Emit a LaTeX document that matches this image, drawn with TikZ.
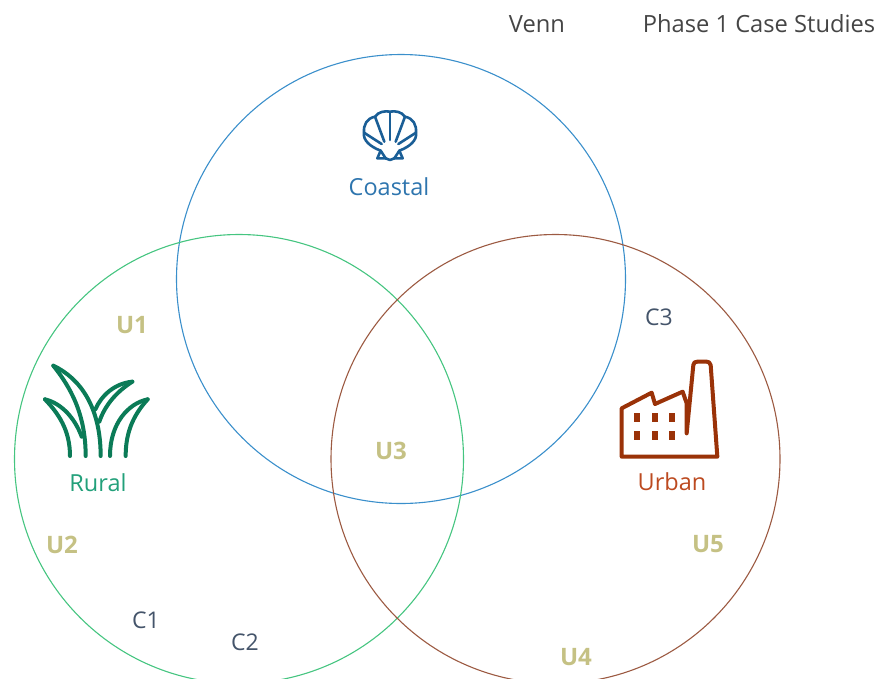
\documentclass[tikz,border=0pt]{standalone}
\usepackage{fontspec}
\setmainfont{Open Sans}
\definecolor{coastalline}{HTML}{3A8FCB}
\definecolor{ruralline}{HTML}{45C580}
\definecolor{urbanline}{HTML}{9C5A42}
\definecolor{coastaltext}{HTML}{2E75AE}
\definecolor{ruraltext}{HTML}{22A07A}
\definecolor{urbantext}{HTML}{BC4A20}
\definecolor{shellicon}{HTML}{1A5E96}
\definecolor{grassicon}{HTML}{0B7B57}
\definecolor{factoryicon}{HTML}{9A3208}
\definecolor{ulabel}{HTML}{C5C184}
\definecolor{clabel}{HTML}{44546A}
\definecolor{titletext}{HTML}{454545}

\begin{document}
\begin{tikzpicture}[x=1pt,y=-1pt]
    \tikzstyle{vennset}=[circle,minimum size=449pt,inner sep=0pt,draw,line width=1.1pt]
    \tikzstyle{setname}=[inner sep=0pt,font=\fontsize{23.5pt}{26pt}\selectfont]
    \tikzstyle{ucase}=[inner sep=0pt,text=ulabel,font=\fontsize{24pt}{26pt}\selectfont\bfseries]
    \tikzstyle{ccase}=[inner sep=0pt,text=clabel,font=\fontsize{23pt}{26pt}\selectfont]
    \tikzstyle{title}=[inner sep=0pt,text=titletext,font=\fontsize{23.7pt}{26pt}\selectfont]
    \tikzstyle{icon}=[line width=4pt,line cap=round,line join=round]
    \useasboundingbox (0,0) rectangle (881,678);
    \clip (0,0) rectangle (881,678);
    % the three sets
    \node[vennset,draw=coastalline] (coastalset) at (401,279) {};
    \node[vennset,draw=ruralline] (ruralset) at (239,459) {};
    \node[vennset,draw=urbanline] (urbanset) at (555.5,459) {};
    % titles
    \node[title] (venn) at (537,24) {Venn};
    \node[title] (phase) at (759,24) {Phase 1 Case Studies};
    % set names
    \node[setname,text=coastaltext] (coastal) at (389,187) {Coastal};
    \node[setname,text=ruraltext] (rural) at (98,483) {Rural};
    \node[setname,text=urbantext] (urban) at (672,482) {Urban};
    % cases
    \node[ucase] (u1) at (132,325) {U1};
    \node[ucase] (u2) at (62,545) {U2};
    \node[ucase] (u3) at (391,451) {U3};
    \node[ucase] (u4) at (576,657) {U4};
    \node[ucase] (u5) at (708,544) {U5};
    \node[ccase] (c1) at (146,620) {C1};
    \node[ccase] (c2) at (245,642) {C2};
    \node[ccase] (c3) at (659,317) {C3};
    % shell
    \begin{scope}[shift={(340,90)},scale=1/3,draw=shellicon,icon,line width=2.6pt]
        \draw (122,182) .. controls (90,170) and (68,150) .. (72,128)
          .. controls (70,105) and (80,85) .. (105,80)
          .. controls (115,65) and (135,62) .. (150,65)
          .. controls (165,62) and (185,65) .. (195,80)
          .. controls (220,85) and (230,105) .. (228,128)
          .. controls (232,150) and (210,170) .. (178,182);
        \draw (150,65) -- (150,150);
        \draw (105,80) -- (133,155);
        \draw (195,80) -- (167,155);
        \draw (72,128) -- (125,162);
        \draw (228,128) -- (175,162);
        \draw (122,182) -- (112,205) -- (137,205) -- cycle;
        \draw (178,182) -- (188,205) -- (163,205) -- cycle;
        \draw (137,205) -- (150,210) -- (163,205);
    \end{scope}
    % grass
    \begin{scope}[shift={(30,350)},scale=1/3,draw=grassicon,icon]
        \draw (70,47) .. controls (150,85) and (212,170) .. (212,318);
        \draw (70,47) .. controls (120,110) and (167,190) .. (167,318);
        \draw (45,148) .. controls (95,160) and (135,205) .. (155,260);
        \draw (45,148) .. controls (85,190) and (120,240) .. (120,318);
        \draw (307,95) .. controls (255,100) and (215,135) .. (196,178);
        \draw (307,95) .. controls (260,125) and (225,165) .. (208,215);
        \draw (353,148) .. controls (295,160) and (240,220) .. (240,318);
        \draw (353,148) .. controls (315,190) and (287,240) .. (287,318);
    \end{scope}
    % factory
    \begin{scope}[shift={(610,350)},scale=1/3,draw=factoryicon,fill=factoryicon,icon]
        \draw[fill=none] (230,250) -- (230,160) -- (218,125) -- (135,162) -- (125,128) -- (35,175)
          -- (35,320) -- (322,320) -- (302,45) .. controls (300,37) and (295,35) .. (290,35)
          -- (262,35) .. controls (255,35) and (250,38) .. (250,45) -- (230,250);
        \foreach \px in {82,134,187}
          \foreach \py in {203,256}
            \fill[draw=none] (\px-9,\py-14) rectangle (\px+9,\py+14);
    \end{scope}
\end{tikzpicture}
\end{document}
